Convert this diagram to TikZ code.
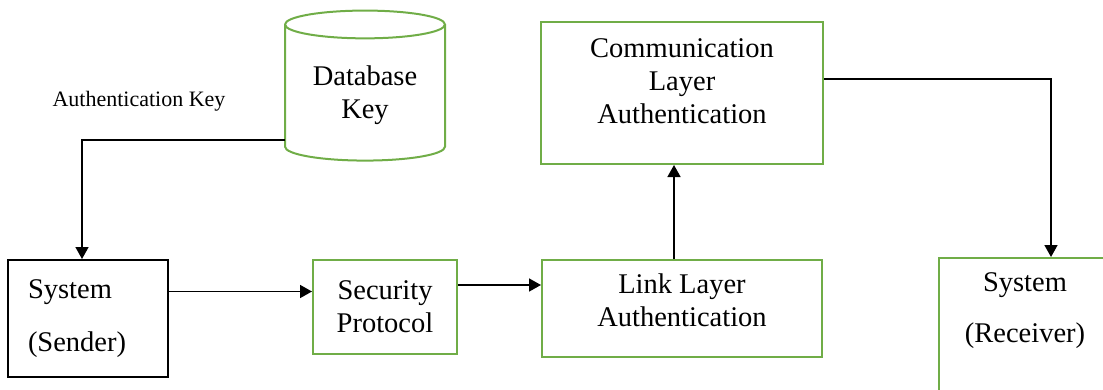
\documentclass[tikz,border=0pt]{standalone}
\usepackage{fontspec}
\setmainfont{Liberation Serif}
\usetikzlibrary{shapes.geometric,arrows.meta}
\definecolor{boxgreen}{RGB}{112,173,71}
\tikzset{
  greenbox/.style={draw=boxgreen, line width=2pt, align=center,
    font=\fontsize{28.5}{33}\selectfont},
  blackbox/.style={draw=black, line width=2pt, align=left,
    font=\fontsize{28.5}{33}\selectfont},
  flow/.style={-{Triangle[width=13pt,length=12pt]}, line width=1.6pt}
}
\begin{document}
\begin{tikzpicture}[x=1pt, y=-1pt]
      \path[use as bounding box, clip] (0,0) rectangle (1103,389);
      \node (db) [cylinder, shape border rotate=90, aspect=0.25, draw=boxgreen,
        line width=2pt, minimum width=160pt, minimum height=150pt, align=center,
        font=\fontsize{28.5}{33}\selectfont] at (365,95) {Database\\Key};
      \coordinate (dbout) at (285,140);
      \node (authkey) [font=\fontsize{22}{26}\selectfont] at (139,101) {Authentication Key};
      \node (sender) [blackbox, minimum width=160pt, minimum height=117pt,
        text width=120pt, inner xsep=20pt] at (88,318.5) {System\\[20pt](Sender)};
      \node (security) [greenbox, minimum width=144pt, minimum height=94pt]
        at (385,307) {Security\\Protocol};
      \node (link) [greenbox, minimum width=280pt, minimum height=97pt,
        text depth=17pt] at (682,308.5) {Link Layer\\Authentication};
      \node (comm) [greenbox, minimum width=282pt, minimum height=142pt,
        text depth=23pt] at (682,93) {Communication\\Layer\\Authentication};
      \node (receiver) [greenbox, minimum width=172pt, minimum height=150pt,
        anchor=north west,
        label={[align=center, anchor=north, yshift=-12pt,
          font=\fontsize{28.5}{33}\selectfont]north:System\\[18pt](Receiver)}]
        at (938,257) {};
      \begin{scope}[flow]
        \draw (dbout) -| ([xshift=-6pt]sender.north);
        \draw ([yshift=27pt]sender.east) -- ([yshift=27pt]sender.east -| security.west);
        \draw ([yshift=22pt]security.east) -- ([yshift=22pt]security.east -| link.west);
        \draw ([xshift=-8pt]link.north) -- ([xshift=-8pt]link.north |- comm.south);
        \draw ([yshift=14pt]comm.east) -| ([xshift=26pt]receiver.north);
      \end{scope}
    \end{tikzpicture}
\end{document}
